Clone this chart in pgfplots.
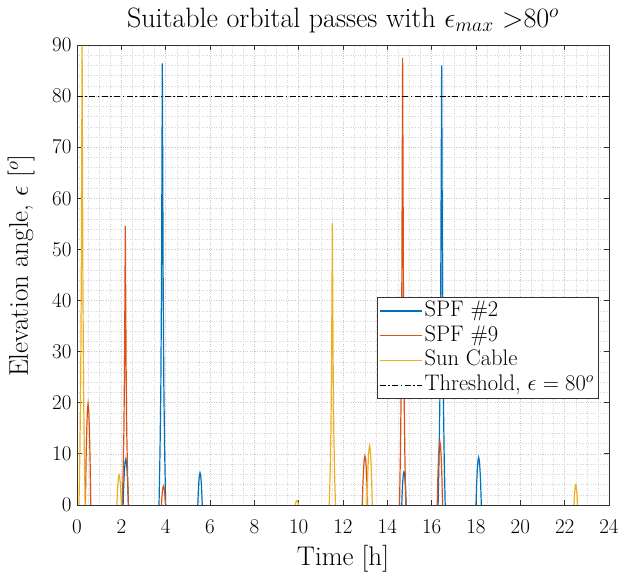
\RequirePackage{fix-cm}
\documentclass[border=0pt]{standalone}
\usepackage{pgfplots}
\pgfplotsset{compat=1.18}
\definecolor{mblue}{rgb}{0,0.447,0.741}
\definecolor{morange}{rgb}{0.850,0.325,0.098}
\definecolor{myellow}{rgb}{0.929,0.694,0.125}
\begin{document}
\begin{tikzpicture}
\begin{axis}[
  width=532pt, height=460pt, scale only axis,
  xmin=0, xmax=24, ymin=0, ymax=90,
  xtick distance=2, ytick distance=10,
  minor x tick num=3, minor y tick num=4,
  grid=both,
  major grid style={dotted, black!22, line width=0.6pt},
  minor grid style={dotted, black!16, line width=0.5pt},
  tick align=inside, major tick length=5.5pt, minor tick length=0pt,
  axis line style={black!80, line width=0.8pt},
  tick style={black!80, line width=0.8pt},
  unbounded coords=jump,
  clip=false,
  ticklabel style={font=\fontsize{21}{25}\selectfont},
  xticklabel style={anchor=base, yshift=-28pt},
  yticklabel style={xshift=-2pt},
  title={Suitable orbital passes with $\epsilon_{max}$ >80$^o$},
  title style={font=\fontsize{28}{32}\selectfont, at={(axis description cs:0.5,1.0254)}, anchor=base},
  xlabel={Time [h]},
  ylabel={Elevation angle, $\epsilon$ [$^o$]},
  label style={font=\fontsize{27}{31}\selectfont},
  xlabel style={at={(axis description cs:0.5,-0.1326)}, anchor=base},
  ylabel style={at={(axis description cs:-0.0921,0.52)}, anchor=base, rotate=0},
  legend style={font=\fontsize{22.5}{26}\selectfont, at={(0.9793,0.452)}, anchor=north east,
    draw=black!80, inner xsep=2pt, inner ysep=1.5pt, row sep=0pt,
    nodes={text height=15.5pt, text depth=4.5pt, inner ysep=2.3pt, inner xsep=2pt}},
  legend cell align=left,
  legend image code/.code={\draw[#1] (0pt,0pt) -- (42pt,0pt);},
]
\addplot[color=mblue, line width=1.2pt] coordinates {
 (2.08,0) (2.11,4.05) (2.14,6.75) (2.17,8.46) (2.20,9.0) (2.23,8.46) (2.26,6.75) (2.29,4.05) (2.32,0)
 (3,nan)
 (3.70,0) (3.745,10.4) (3.7825,23.3) (3.8125,43.2) (3.835,69.1) (3.85,86.4) (3.865,69.1) (3.8875,43.2) (3.9175,23.3) (3.955,10.4) (4.00,0)
 (5,nan)
 (5.45,0) (5.475,2.84) (5.50,4.73) (5.525,5.92) (5.55,6.3) (5.575,5.92) (5.60,4.73) (5.625,2.84) (5.65,0)
 (10,nan)
 (14.65,0) (14.675,2.93) (14.70,4.88) (14.725,6.11) (14.75,6.5) (14.775,6.11) (14.80,4.88) (14.825,2.93) (14.85,0)
 (15,nan)
 (16.29,0) (16.338,10.3) (16.378,23.2) (16.41,43.0) (16.434,68.8) (16.45,86.0) (16.466,68.8) (16.49,43.0) (16.522,23.2) (16.562,10.3) (16.61,0)
 (17,nan)
 (18.00,0) (18.03,4.19) (18.06,6.98) (18.09,8.74) (18.12,9.3) (18.15,8.74) (18.18,6.98) (18.21,4.19) (18.24,0)
};
\addlegendentry{SPF \#2}
\addplot[color=morange, line width=1.2pt] coordinates {
 (0.38,0) (0.41,8.91) (0.44,14.85) (0.47,18.61) (0.50,19.8) (0.53,18.61) (0.56,14.85) (0.59,8.91) (0.62,0)
 (1,nan)
 (2.04,0) (2.082,6.55) (2.117,14.74) (2.145,27.3) (2.166,43.68) (2.18,54.6) (2.194,43.68) (2.215,27.3) (2.243,14.74) (2.278,6.55) (2.32,0)
 (3,nan)
 (3.81,0) (3.8325,1.67) (3.855,2.78) (3.8775,3.48) (3.90,3.7) (3.9225,3.48) (3.945,2.78) (3.9675,1.67) (3.99,0)
 (5,nan)
 (12.87,0) (12.90,4.32) (12.93,7.2) (12.96,9.02) (12.99,9.6) (13.02,9.02) (13.05,7.2) (13.08,4.32) (13.11,0)
 (14,nan)
 (14.55,0) (14.592,10.5) (14.627,23.6) (14.655,43.75) (14.676,70) (14.69,87.5) (14.704,70) (14.725,43.75) (14.753,23.6) (14.788,10.5) (14.83,0)
 (15,nan)
 (16.25,0) (16.28,5.58) (16.31,9.3) (16.34,11.66) (16.37,12.4) (16.40,11.66) (16.43,9.3) (16.46,5.58) (16.49,0)
};
\addlegendentry{SPF \#9}
\addplot[color=myellow, line width=1.2pt] coordinates {
 (0.09,0) (0.132,10.8) (0.167,24.3) (0.195,44.95) (0.216,71.9) (0.23,89.9) (0.244,71.9) (0.265,44.95) (0.293,24.3) (0.328,10.8) (0.37,0)
 (1,nan)
 (1.80,0) (1.825,2.66) (1.85,4.43) (1.875,5.55) (1.90,5.9) (1.925,5.55) (1.95,4.43) (1.975,2.66) (2.00,0)
 (5,nan)
 (9.85,0) (9.8675,0.41) (9.885,0.68) (9.9025,0.85) (9.92,0.9) (9.9375,0.85) (9.955,0.68) (9.9725,0.41) (9.99,0)
 (11,nan)
 (11.38,0) (11.422,6.62) (11.457,14.9) (11.485,27.6) (11.506,44.16) (11.52,55.2) (11.534,44.16) (11.555,27.6) (11.583,14.9) (11.618,6.62) (11.66,0)
 (12,nan)
 (13.08,0) (13.11,5.22) (13.14,8.7) (13.17,10.9) (13.20,11.6) (13.23,10.9) (13.26,8.7) (13.29,5.22) (13.32,0)
 (20,nan)
 (22.42,0) (22.44,1.76) (22.46,2.93) (22.48,3.67) (22.50,3.9) (22.52,3.67) (22.54,2.93) (22.56,1.76) (22.58,0)
};
\addlegendentry{Sun Cable}
\addplot[color=black, line width=0.7pt, dash pattern=on 6pt off 2.5pt on 1.5pt off 2.5pt] coordinates {(0,80) (24,80)};
\addlegendentry{Threshold, $\epsilon = 80^o$}
\end{axis}
\path ([shift={(-77pt,-70pt)}]current axis.south west) rectangle ([shift={(14pt,45pt)}]current axis.north east);
\end{tikzpicture}
\end{document}
